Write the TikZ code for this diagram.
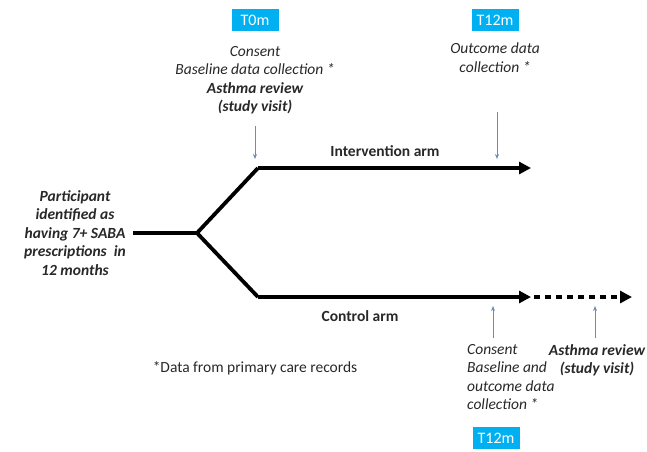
\documentclass[tikz,border=0pt]{standalone}
\usepackage{fontspec}
\setmainfont{Carlito}
\usetikzlibrary{arrows.meta}
\definecolor{tboxcol}{RGB}{0,176,240}
\definecolor{txt}{RGB}{40,40,40}
\definecolor{pincol}{RGB}{110,140,185}
\tikzset{
  tbox/.style={fill=tboxcol, text=white, minimum width=47pt, minimum height=22pt, inner sep=0pt, font=\fontsize{16}{18}\selectfont},
  lbl/.style={text=txt, align=center, inner sep=0pt, font=\fontsize{15.5}{18.5}\selectfont\itshape},
  blbl/.style={text=txt, align=center, inner sep=0pt, font=\fontsize{15.5}{18.5}\selectfont\bfseries\itshape},
  arm/.style={line width=3.8pt, black},
  armtip/.style={-{Triangle[length=12pt,width=12pt]}},
  pinarrow/.style={draw=pincol, line width=0.7pt, -{Stealth[length=5pt,width=4pt]}},
}
\begin{document}
\begin{tikzpicture}[x=1pt,y=-1pt]
\useasboundingbox (0,0) rectangle (647,451);
% boxes
\node[tbox] (t0) at (255,20) {T0m};
\node[tbox] (t12a) at (495,20) {T12m};
\node[tbox] (t12b) at (496,438) {T12m};
% T0 text
\node[lbl, anchor=north] (t0txt) at (255,46) {Consent\\Baseline data collection *\\\textbf{Asthma review}\\\textbf{(study visit)}};
\node[lbl, anchor=north] (t12txt) at (495,43) {Outcome data\\collection *};
% left text
\node[blbl] (part) at (75,233) {Participant\\identified as\\having 7+ SABA\\prescriptions~ in\\12 months};
% key points
\coordinate (s) at (133,233);
\coordinate (b) at (197,233);
\coordinate (iu) at (258,168);
\coordinate (ie) at (531,168);
\coordinate (cu) at (258,297);
\coordinate (ce) at (531,297);
\coordinate (ds) at (534,297);
\coordinate (de) at (632,297);
\draw[arm, line join=miter] (s) -- (b) -- (iu);
\draw[arm] (b) -- (cu);
\draw[arm, armtip] (iu) -- (ie);
\draw[arm, armtip] (cu) -- (ce);
\draw[line width=4pt, dash pattern=on 6pt off 5pt, -{Triangle[length=12pt,width=12pt]}] (ds) -- (de);
% labels on arms
\node[text=txt, font=\fontsize{15.5}{16}\selectfont\bfseries] (ia) at (385,151) {Intervention arm};
\node[text=txt, font=\fontsize{15.5}{16}\selectfont\bfseries] (ca) at (360,316) {Control arm};
% pin arrows
\coordinate (p1s) at (255,126); \coordinate (p1e) at (255,159);
\coordinate (p2s) at (497,112); \coordinate (p2e) at (497,159);
\coordinate (p3s) at (493,338); \coordinate (p3e) at (493,306);
\coordinate (p4s) at (595,338); \coordinate (p4e) at (595,306);
\draw[pinarrow] (p1s) -- (p1e);
\draw[pinarrow] (p2s) -- (p2e);
\draw[pinarrow] (p3s) -- (p3e);
\draw[pinarrow] (p4s) -- (p4e);
% bottom texts
\node[lbl, align=left, anchor=north west] (ctxt) at (467,344) {Consent\\Baseline and\\outcome data\\collection *};
\node[blbl, anchor=north] (rev) at (597,344) {Asthma review\\(study visit)};
\node[text=txt, inner sep=0pt, font=\fontsize{15.5}{18}\selectfont] (note) at (255,368) {*Data from primary care records};
\end{tikzpicture}
\end{document}
